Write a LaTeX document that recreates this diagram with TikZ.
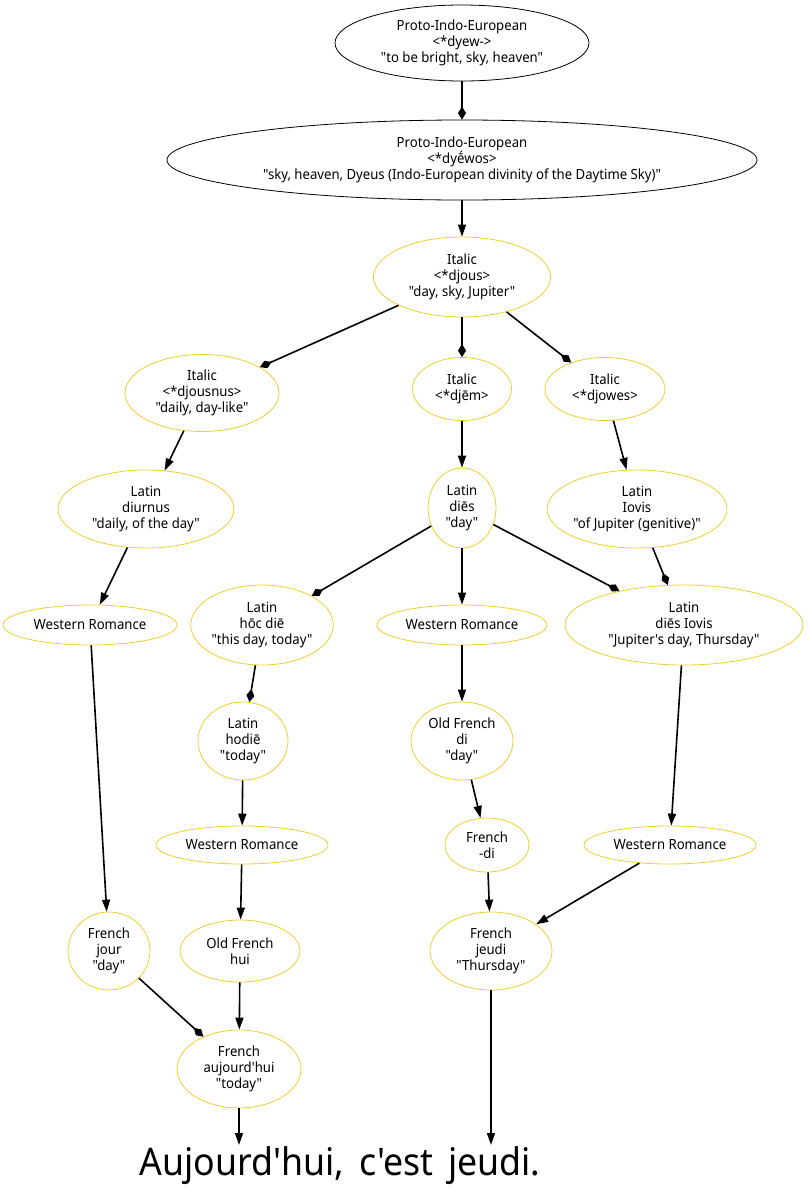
\documentclass[tikz,border=0pt]{standalone}
\usepackage{fontspec}
\setmainfont{Noto Sans}[Ligatures=TeXOff,FakeStretch=0.94]
\usetikzlibrary{shapes.geometric,arrows.meta}
\definecolor{gold}{RGB}{240,205,45}
\tikzset{
  base/.style={ellipse,draw,line width=0.8pt,inner sep=0pt,align=center,
    font=\fontsize{14}{16}\selectfont},
  pie/.style={base,draw=black},
  yel/.style={base,draw=gold},
  edge/.style={line width=1.6pt,-{Triangle[length=12pt,width=8pt]}},
  dia/.style={line width=1.6pt,-{Diamond[length=13pt,width=8pt]}},
}
\newcommand{\nd}[6]{\node[#1,minimum width=#4pt,minimum height=#5pt] (#6) at (#2,#3)}
\begin{document}
\begin{tikzpicture}[x=1pt,y=-1pt]
\useasboundingbox (0,0) rectangle (807,1200);
\nd{pie}{462}{43}{254}{76}{pie1} {Proto-Indo-European\\<*dyew->\\"to be bright, sky, heaven"};
\nd{pie}{462}{160}{590}{80}{pie2} {Proto-Indo-European\\<*dyḗwos>\\"sky, heaven, Dyeus (Indo-European divinity of the Daytime Sky)"};
\nd{yel}{462}{277}{177}{80}{djous} {Italic\\<*djous>\\"day, sky, Jupiter"};
\nd{yel}{202}{393}{154}{77}{djousnus} {Italic\\<*djousnus>\\"daily, day-like"};
\nd{yel}{462}{389}{99}{63}{djem} {Italic\\<*djēm>};
\nd{yel}{605}{389}{120}{63}{djowes} {Italic\\<*djowes>};
\nd{yel}{146}{509}{176}{78}{diurnus} {Latin\\diurnus\\"daily, of the day"};
\nd{yel}{462}{508}{68}{80}{dies} {Latin\\diēs\\"day"};
\nd{yel}{637}{509}{176}{78}{iovis} {Latin\\Iovis\\"of Jupiter (genitive)"};
\nd{yel}{90}{625}{174}{40}{wr1} {Western Romance};
\nd{yel}{262}{625}{136}{80}{hoc} {Latin\\hōc diē\\"this day, today"};
\nd{yel}{462}{625}{170}{40}{wr2} {Western Romance};
\nd{yel}{684}{625}{238}{80}{diesiovis} {Latin\\diēs Iovis\\"Jupiter's day, Thursday"};
\nd{yel}{243}{741}{90}{78}{hodie} {Latin\\hodiē\\"today"};
\nd{yel}{462}{741}{102}{78}{ofdi} {Old French\\di\\"day"};
\nd{yel}{242}{845}{172}{38}{wr3} {Western Romance};
\nd{yel}{487}{845}{84}{54}{frdi} {French\\-di};
\nd{yel}{670}{845}{172}{38}{wr4} {Western Romance};
\nd{yel}{109}{951}{82}{78}{jour} {French\\jour\\"day"};
\nd{yel}{240}{951}{120}{62}{hui} {Old French\\hui};
\nd{yel}{491}{951}{122}{78}{jeudi} {French\\jeudi\\"Thursday"};
\nd{yel}{239}{1069}{124}{78}{auj} {French\\aujourd'hui\\"today"};
\node[inner sep=0pt,font=\fontsize{38}{42}\selectfont] (txt) at (340,1166)
  {Aujourd'hui,\hspace{0.15em} c'est\hspace{0.15em} jeudi.};
\draw[dia] (pie1) -- (pie2);
\draw[edge] (pie2) -- (djous);
\draw[dia] (djous) -- (djousnus);
\draw[dia] (djous) -- (djem);
\draw[dia] (djous) -- (djowes);
\draw[edge] (djousnus) -- (diurnus);
\draw[edge] (djem) -- (dies);
\draw[edge] (djowes) -- (iovis);
\draw[edge] (diurnus) -- (wr1);
\draw[dia] (dies) -- (hoc);
\draw[edge] (dies) -- (wr2);
\draw[dia] (dies) -- (diesiovis);
\draw[dia] (iovis) -- (diesiovis);
\draw[edge] (wr1) -- (jour);
\draw[dia] (hoc) -- (hodie);
\draw[edge] (wr2) -- (ofdi);
\draw[edge] (diesiovis) -- (wr4);
\draw[edge] (hodie) -- (wr3);
\draw[edge] (ofdi) -- (frdi);
\draw[edge] (wr3) -- (hui);
\draw[edge] (frdi) -- (jeudi);
\draw[edge] (wr4) -- (jeudi);
\draw[dia] (jour) -- (auj);
\draw[edge] (hui) -- (auj);
\draw[edge] (auj) -- (auj |- 0,1145);
\draw[edge] (jeudi) -- (jeudi |- 0,1145);
\end{tikzpicture}
\end{document}
